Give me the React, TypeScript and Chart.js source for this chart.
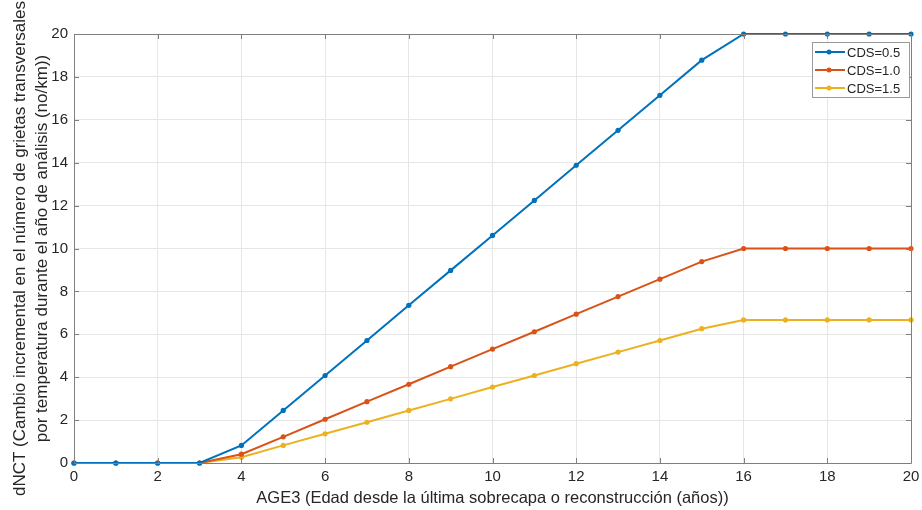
import React, { useEffect, useRef } from "react";
import { Chart, registerables } from "chart.js";

Chart.register(...registerables);

const ages = [0, 1, 2, 3, 4, 5, 6, 7, 8, 9, 10, 11, 12, 13, 14, 15, 16, 17, 18, 19, 20];
const cds05 = [0, 0, 0, 0, 0.82, 2.45, 4.08, 5.71, 7.35, 8.98, 10.61, 12.24, 13.88, 15.51, 17.14, 18.78, 20, 20, 20, 20, 20];
const cds10 = [0, 0, 0, 0, 0.41, 1.22, 2.04, 2.86, 3.67, 4.49, 5.31, 6.12, 6.94, 7.76, 8.57, 9.39, 10, 10, 10, 10, 10];
const cds15 = [0, 0, 0, 0, 0.27, 0.82, 1.36, 1.9, 2.45, 2.99, 3.54, 4.08, 4.63, 5.17, 5.71, 6.26, 6.67, 6.67, 6.67, 6.67, 6.67];
const seriesNames = ["CDS=0.5", "CDS=1.0", "CDS=1.5"];
const colors = ["#0072BD", "#D95319", "#EDB120"];
const xTitle = "AGE3 (Edad desde la última sobrecapa o reconstrucción (años))";
const yTitle = [
  "dNCT (Cambio incremental en el número de grietas transversales",
  "por temperatura durante el año de análisis (no/km))",
];

const FONT = "Arial, 'Liberation Sans', sans-serif";
const TXT = "#262626";
const AXIS = "#7f7f7f";

const boxPlugin = {
  id: "boxPlugin",
  afterDraw(chart: any) {
    const { ctx, chartArea: a, scales } = chart;
    ctx.save();
    ctx.strokeStyle = AXIS;
    ctx.lineWidth = 1;
    const tl = 5;
    for (let v = 0; v <= 20; v += 2) {
      const px = Math.round(scales.x.getPixelForValue(v)) + 0.5;
      ctx.beginPath();
      ctx.moveTo(px, a.bottom);
      ctx.lineTo(px, a.bottom - tl);
      ctx.moveTo(px, a.top);
      ctx.lineTo(px, a.top + tl);
      ctx.stroke();
      const py = Math.round(scales.y.getPixelForValue(v)) + 0.5;
      ctx.beginPath();
      ctx.moveTo(a.left, py);
      ctx.lineTo(a.left + tl, py);
      ctx.moveTo(a.right, py);
      ctx.lineTo(a.right - tl, py);
      ctx.stroke();
    }
    ctx.beginPath();
    ctx.rect(Math.round(a.left) + 0.5, Math.round(a.top) + 0.5, Math.round(a.right - a.left), Math.round(a.bottom - a.top));
    ctx.stroke();

    // legend
    const lx = 812, ly = 42, lw = 97, lh = 55;
    ctx.fillStyle = "#ffffff";
    ctx.fillRect(lx, ly, lw, lh);
    ctx.strokeStyle = "#9a9a9a";
    ctx.strokeRect(lx + 0.5, ly + 0.5, lw, lh);
    ctx.font = `13px ${FONT}`;
    ctx.textBaseline = "middle";
    ctx.textAlign = "left";
    for (let i = 0; i < 3; i++) {
      const yy = ly + 10 + i * 18;
      ctx.strokeStyle = colors[i];
      ctx.lineWidth = 2;
      ctx.beginPath();
      ctx.moveTo(lx + 3, yy);
      ctx.lineTo(lx + 33, yy);
      ctx.stroke();
      ctx.fillStyle = colors[i];
      ctx.beginPath();
      ctx.arc(lx + 17, yy, 2.5, 0, Math.PI * 2);
      ctx.fill();
      ctx.fillStyle = TXT;
      ctx.fillText(seriesNames[i], lx + 35, yy + 1);
    }
    ctx.restore();
  },
};

export default function App() {
  const ref = useRef<HTMLCanvasElement | null>(null);
  useEffect(() => {
    document.body.style.margin = "0";
    const data = [cds05, cds10, cds15];
    const chart = new Chart(ref.current as HTMLCanvasElement, {
      type: "line",
      data: {
        datasets: data.map((d, i) => ({
          label: seriesNames[i],
          data: ages.map((x, j) => ({ x, y: d[j] })),
          borderColor: colors[i],
          backgroundColor: colors[i],
          borderWidth: 2,
          pointRadius: 2.6,
          pointBorderWidth: 0,
          pointBackgroundColor: colors[i],
          clip: false as any,
        })),
      },
      options: {
        animation: false,
        responsive: false,
        layout: { padding: { left: 0, top: 34, right: 11, bottom: 0 } },
        plugins: { legend: { display: false }, tooltip: { enabled: false } },
        scales: {
          x: {
            type: "linear",
            min: 0,
            max: 20,
            ticks: { stepSize: 2, color: TXT, font: { size: 15, family: FONT }, padding: 5, maxRotation: 0 },
            grid: { color: "#e6e6e6", drawTicks: false },
            border: { display: false },
            title: { display: true, text: xTitle, color: TXT, font: { size: 16.5, family: FONT }, padding: { top: 0, bottom: 2 } },
            afterFit(s: any) { s.height = 47; s.paddingLeft = 0; s.paddingRight = 0; },
          },
          y: {
            type: "linear",
            min: 0,
            max: 20,
            ticks: { stepSize: 2, color: TXT, font: { size: 15, family: FONT }, padding: 6 },
            grid: { color: "#e6e6e6", drawTicks: false },
            border: { display: false },
            title: { display: true, text: yTitle, color: TXT, font: { size: 17, family: FONT, lineHeight: 1.25 }, padding: { top: 10, bottom: 0 } },
            afterFit(s: any) { s.width = 74; s.paddingTop = 0; s.paddingBottom = 0; },
          },
        },
      },
      plugins: [boxPlugin],
    } as any);
    return () => chart.destroy();
  }, []);
  return (
    <div style={{ position: "absolute", left: 0, top: 0, width: 922, height: 510, background: "#fff" }}>
      <canvas ref={ref} width={922} height={510} />
    </div>
  );
}
